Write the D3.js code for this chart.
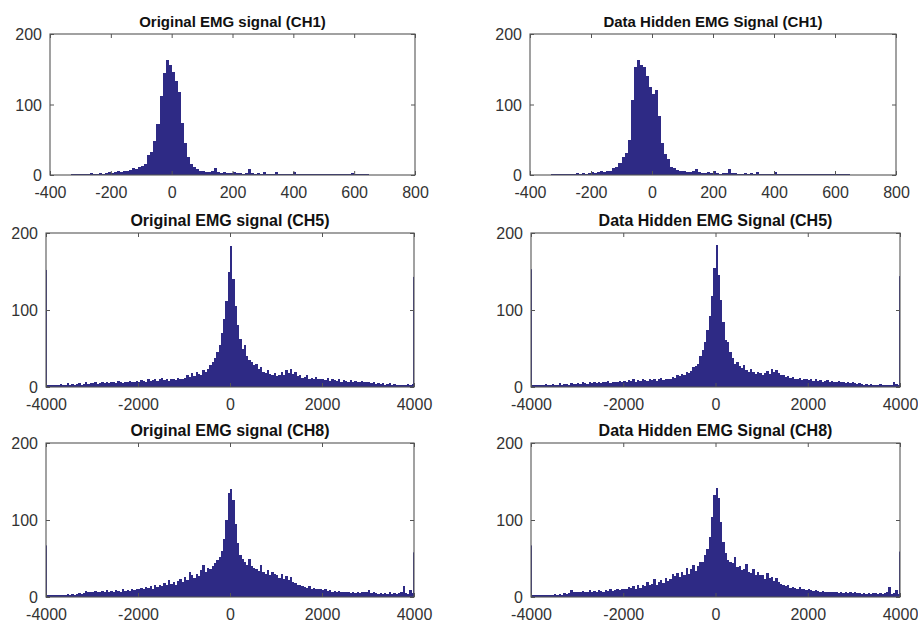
<!DOCTYPE html>
<html>
<head>
<meta charset="utf-8">
<script src="https://cdn.jsdelivr.net/npm/d3@7"></script>
<style>
  html, body { margin: 0; padding: 0; background: #ffffff; }
  svg { display: block; font-family: "Liberation Sans", Arial, sans-serif; }
</style>
</head>
<body>
<svg id="chart" width="918" height="625"></svg>
<script>
// ---- Histogram counts (EMG amplitude histograms) ----

// CH1: bins of 10 starting at -330
const ch1BinStart = -330;
const ch1BinWidth = 10;
const ch1Original = [
  1,2,1,2,2,1,3,2,2,3,
  2,3,4,3,4,5,4,5,6,7,
  10,8,11,13,15,28,33,48,72,112,
  145,163,156,146,134,118,74,46,26,15,
  11,9,6,5,4,4,5,10,4,3,
  4,3,3,4,3,3,2,3,8,3,
  2,3,2,4,2,2,2,4,2,1,
  2,1,2,4,2,1,1,2,1,1,
  1,2,1,1,1,1,2,1,1,1,
  1,1,3,1,1,1,1,1
];
const ch1Hidden = [
  1,1,2,1,2,2,1,2,3,2,
  3,2,3,4,3,4,5,4,6,5,
  10,12,17,26,31,50,106,153,163,156,
  153,141,125,115,120,83,45,30,22,12,
  10,7,6,5,4,4,6,9,4,3,
  3,4,3,5,3,2,3,3,8,3,
  3,2,2,3,2,3,2,4,2,2,
  1,2,1,4,1,2,1,1,2,1,
  1,1,2,1,1,1,1,1,2,1,
  1,2,1,1,1,1,2,1
];

// CH5 / CH8: bins of 50 from -4000 to 4000
const wideBinStart = -4000;
const wideBinWidth = 50;
const ch5Original = [
  3,2,2,3,2,3,4,2,3,5,3,4,3,4,5,3,4,6,4,5,
  5,6,4,5,7,5,6,5,7,6,5,8,6,5,7,6,8,6,7,8,
  7,9,8,7,10,8,9,11,8,10,12,9,10,8,11,10,9,12,11,10,
  12,15,13,18,14,20,17,16,22,19,24,28,32,38,46,55,70,88,112,150,
  183,140,105,80,62,50,54,40,35,32,28,30,24,26,20,18,22,17,16,18,
  14,16,20,15,22,18,24,17,20,14,16,12,13,15,11,12,10,13,11,10,
  11,9,12,8,10,9,8,10,7,9,8,7,9,6,8,7,6,8,7,6,
  6,5,6,4,5,4,5,3,4,5,3,4,3,2,3,2,3,4,3,4
];
const ch5Hidden = [
  2,3,2,2,3,2,4,3,2,4,3,3,5,3,4,4,3,5,4,4,
  5,4,6,5,4,6,5,7,5,6,5,7,6,8,5,7,6,7,8,6,
  8,7,9,8,10,7,9,8,11,9,8,10,9,11,8,10,12,9,11,10,
  11,13,12,15,14,17,16,19,18,21,26,27,30,40,48,58,74,92,118,155,
  185,145,113,85,61,59,45,38,30,33,27,25,28,22,20,24,19,17,20,18,
  16,18,21,17,24,20,22,18,16,15,13,14,12,13,11,10,12,9,11,10,
  9,11,8,10,8,9,7,8,9,7,8,6,7,8,6,7,5,6,5,6,
  5,4,5,4,3,4,3,4,3,2,3,4,3,2,3,2,3,7,4,3
];
const ch8Original = [
  2,2,3,2,2,3,3,2,3,4,3,4,3,4,5,4,5,8,6,7,
  6,8,7,6,8,7,9,6,8,7,9,8,7,10,8,9,8,10,9,11,
  10,12,11,13,12,14,11,15,13,16,14,18,15,22,17,19,16,21,24,20,
  26,22,33,28,25,30,27,35,41,32,38,36,40,44,48,52,60,75,100,135,
  140,126,95,70,55,50,45,42,50,40,38,36,34,41,32,30,35,28,33,30,
  28,25,30,24,27,22,26,20,18,15,16,14,13,12,14,11,12,10,11,10,
  9,10,8,9,7,8,7,8,6,7,6,7,5,6,5,6,5,6,7,6,
  9,5,6,5,4,5,4,5,4,6,4,5,4,5,6,14,5,4,9,5
];
const ch8Hidden = [
  2,3,2,2,3,2,3,3,2,3,4,3,4,3,5,4,5,9,6,7,
  7,6,8,7,6,9,7,8,6,9,8,7,9,8,10,8,9,11,9,10,
  11,10,13,12,14,11,15,12,16,14,20,15,17,23,16,19,22,18,25,21,
  24,30,27,31,26,33,29,38,30,36,42,34,40,45,46,54,62,78,104,133,
  141,128,98,72,57,48,46,44,52,39,40,35,37,43,33,31,36,29,32,28,
  29,24,31,25,26,21,25,19,17,16,14,15,12,13,12,11,13,10,11,9,
  10,9,8,9,8,7,8,7,7,6,7,6,6,5,6,5,6,5,7,5,
  6,5,5,4,5,4,5,4,5,5,4,5,4,5,6,13,4,5,9,4
];

// Saturated samples piled up at the range limits [-4000, 4000]
const clipBinWidth = 20;
const ch5OriginalClipped = [152, 143];
const ch5HiddenClipped = [153, 144];
const ch8OriginalClipped = [67, 58];
const ch8HiddenClipped = [67, 59];

// Axis ranges and tick labels
const ch1Domain = [-400, 800];
const ch1Ticks = [-400, -200, 0, 200, 400, 600, 800];
const wideDomain = [-4000, 4000];
const wideTicks = [-4000, -2000, 0, 2000, 4000];
const countDomain = [0, 200];
const countTicks = [0, 100, 200];

const titles = [
  "Original EMG signal (CH1)", "Data Hidden EMG Signal (CH1)",
  "Original EMG signal (CH5)", "Data Hidden EMG Signal (CH5)",
  "Original EMG signal (CH8)", "Data Hidden EMG Signal (CH8)"
];

// ---- Drawing ----
const barColor = "#2e2a85";
const axisColor = "#555555";
const labelColor = "#333333";
const plainNumber = d => String(d);   // ASCII hyphen for negatives

const series = [
  { counts: ch1Original, start: ch1BinStart, width: ch1BinWidth, domain: ch1Domain, ticks: ch1Ticks, clipped: null },
  { counts: ch1Hidden,   start: ch1BinStart, width: ch1BinWidth, domain: ch1Domain, ticks: ch1Ticks, clipped: null },
  { counts: ch5Original, start: wideBinStart, width: wideBinWidth, domain: wideDomain, ticks: wideTicks, clipped: ch5OriginalClipped },
  { counts: ch5Hidden,   start: wideBinStart, width: wideBinWidth, domain: wideDomain, ticks: wideTicks, clipped: ch5HiddenClipped },
  { counts: ch8Original, start: wideBinStart, width: wideBinWidth, domain: wideDomain, ticks: wideTicks, clipped: ch8OriginalClipped },
  { counts: ch8Hidden,   start: wideBinStart, width: wideBinWidth, domain: wideDomain, ticks: wideTicks, clipped: ch8HiddenClipped }
];

// Subplot frames (left, right, top, bottom) and title styling
const frames = [
  { l: 50,  r: 415, t: 34,  b: 175, titleY: 27,  titleSize: 15 },
  { l: 530, r: 896, t: 34,  b: 175, titleY: 27,  titleSize: 15 },
  { l: 46,  r: 414, t: 233, b: 387, titleY: 226, titleSize: 16 },
  { l: 531, r: 900, t: 233, b: 387, titleY: 226, titleSize: 16 },
  { l: 46,  r: 414, t: 443, b: 597, titleY: 436, titleSize: 16 },
  { l: 531, r: 900, t: 443, b: 597, titleY: 436, titleSize: 16 }
];

const svg = d3.select("#chart");

series.forEach((s, k) => {
  const f = frames[k];
  const x = d3.scaleLinear().domain(s.domain).range([f.l, f.r]);
  const y = d3.scaleLinear().domain(countDomain).range([f.b, f.t]);
  const g = svg.append("g").attr("class", "subplot");

  // histogram bars
  g.append("g")
    .attr("shape-rendering", "crispEdges")
    .selectAll("rect")
    .data(s.counts)
    .join("rect")
    .attr("x", (d, i) => x(s.start + i * s.width))
    .attr("width", (d, i) => x(s.start + (i + 1) * s.width) - x(s.start + i * s.width))
    .attr("y", d => y(d))
    .attr("height", d => y(0) - y(d))
    .attr("fill", barColor);

  // narrow bars for the clipped samples at both range limits
  if (s.clipped) {
    const edges = [
      [s.domain[0], s.domain[0] + clipBinWidth],
      [s.domain[1] - clipBinWidth, s.domain[1]]
    ];
    g.append("g").selectAll("rect")
      .data(s.clipped)
      .join("rect")
      .attr("x", (d, i) => x(edges[i][0]))
      .attr("width", (d, i) => x(edges[i][1]) - x(edges[i][0]))
      .attr("y", d => y(d))
      .attr("height", d => y(0) - y(d))
      .attr("fill", barColor);
  }

  // bottom axis with labels, ticks pointing inward
  const bottom = g.append("g")
    .attr("transform", `translate(0,${f.b})`)
    .call(d3.axisBottom(x).tickValues(s.ticks).tickSizeInner(-4).tickSizeOuter(0).tickPadding(12).tickFormat(plainNumber));
  // top axis ticks only
  const top = g.append("g")
    .attr("transform", `translate(0,${f.t})`)
    .call(d3.axisTop(x).tickValues(s.ticks).tickSizeInner(-4).tickSizeOuter(0).tickFormat(""));
  // left axis with labels
  const left = g.append("g")
    .attr("transform", `translate(${f.l},0)`)
    .call(d3.axisLeft(y).tickValues(countTicks).tickSizeInner(-4).tickSizeOuter(0).tickPadding(8).tickFormat(plainNumber));
  // right axis ticks only
  const right = g.append("g")
    .attr("transform", `translate(${f.r},0)`)
    .call(d3.axisRight(y).tickValues(countTicks).tickSizeInner(-4).tickSizeOuter(0).tickFormat(""));

  [bottom, top, left, right].forEach(a => {
    a.select(".domain").remove();
    a.selectAll(".tick line").attr("stroke", axisColor).attr("stroke-width", 1);
    a.selectAll(".tick text")
      .attr("fill", labelColor)
      .style("font-family", "'Liberation Sans', Arial, sans-serif")
      .style("font-size", "16px");
  });
  left.selectAll(".tick text").attr("dy", "0.36em");

  // axes box
  g.append("rect")
    .attr("x", f.l).attr("y", f.t)
    .attr("width", f.r - f.l).attr("height", f.b - f.t)
    .attr("fill", "none")
    .attr("stroke", axisColor)
    .attr("stroke-width", 1.1);

  // title
  g.append("text")
    .attr("x", (f.l + f.r) / 2)
    .attr("y", f.titleY)
    .attr("text-anchor", "middle")
    .attr("fill", "#111111")
    .style("font-weight", "bold")
    .style("font-size", f.titleSize + "px")
    .text(titles[k]);
});
</script>
</body>
</html>
